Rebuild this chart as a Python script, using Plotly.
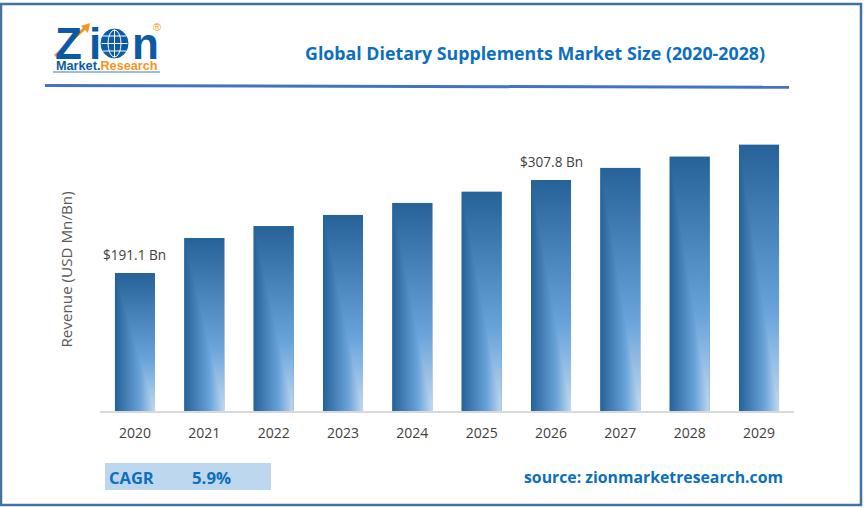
import base64, struct, zlib
import numpy as np
import plotly.graph_objects as go

years = [2020, 2021, 2022, 2023, 2024, 2025, 2026, 2027, 2028, 2029]
revenue = [191.1, 235, 250, 264, 279, 293, 307.8, 323, 337, 352]
labelled_years = [2020, 2026]
title_text = "Global Dietary Supplements Market Size (2020-2028)"
y_title = "Revenue (USD Mn/Bn)"
cagr_label = "CAGR"
cagr_value = "5.9%"
source_text = "source: zionmarketresearch.com"

W, H = 864, 508
BLUE = "#0b6fbe"
LOGO = "#0b5aa5"
ORANGE = "#f7941d"
BORDER = "#44729f"


def px(x):
    return x / W


def py(y):
    return 1 - y / H


def png_uri(rgb):
    h, w, _ = rgb.shape
    raw = b"".join(b"\x00" + rgb[r].tobytes() for r in range(h))

    def chunk(t, d):
        return struct.pack(">I", len(d)) + t + d + struct.pack(">I", zlib.crc32(t + d) & 0xffffffff)

    data = (b"\x89PNG\r\n\x1a\n" + chunk(b"IHDR", struct.pack(">IIBBBBB", w, h, 8, 2, 0, 0, 0))
            + chunk(b"IDAT", zlib.compress(raw)) + chunk(b"IEND", b""))
    return "data:image/png;base64," + base64.b64encode(data).decode()


# corner ("from bottom right") fill used on every bar
gw, gh = 120, 480
u = 1 - (np.arange(gw) + .5) / gw
v = 1 - (np.arange(gh) + .5) / gh
f = np.maximum.outer(v, u)
stops = [0, .38, 1]
cols = np.array([[0xc4, 0xda, 0xef], [0x68, 0xa3, 0xda], [0x27, 0x62, 0x98]])
img = np.stack([np.interp(f, stops, cols[:, i]) for i in range(3)], axis=2).astype(np.uint8)
grad = png_uri(img)

Y0, Y1 = 18.0, 383.1
BAR_W = 0.577

fig = go.Figure(go.Bar(x=years, y=revenue, width=BAR_W, marker=dict(color="#3f7fb8", line_width=0),
                       hoverinfo="x+y"))

images = [dict(source=grad, xref="x", yref="y", x=yr - BAR_W / 2, y=val, sizex=BAR_W, sizey=val - Y0,
               xanchor="left", yanchor="top", sizing="stretch", layer="above")
          for yr, val in zip(years, revenue)]

ann = []


def text(x, y, s, size, color, family="Open Sans", bold=False, anchor="left", **kw):
    ann.append(dict(xref="paper", yref="paper", x=px(x), y=py(y), text=f"<b>{s}</b>" if bold else s,
                    showarrow=False, xanchor=anchor, yanchor="middle",
                    font=dict(size=size, color=color, family=family), **kw))


for yr, val in zip(years, revenue):
    if yr in labelled_years:
        ann.append(dict(xref="x", yref="y", x=yr, y=val, yanchor="bottom", xanchor="center", yshift=7,
                        text=f"${val} Bn", showarrow=False,
                        font=dict(size=13.6, color="#404040", family="Open Sans")))

text(535, 53, title_text, 17.8, BLUE, bold=True, anchor="center")
text(65, 269.5, y_title, 15.2, "#595959", anchor="center", textangle=-90)
text(107, 477, cagr_label, 16.5, BLUE, bold=True)
text(190, 477, cagr_value, 16.8, BLUE, bold=True)
text(785, 477, source_text, 15.8, BLUE, bold=True, anchor="right")

# logo
text(53, 44, "Z", 44, LOGO, family="Liberation Sans", bold=True)
text(87, 44, "i", 44, LOGO, family="Liberation Sans", bold=True)
text(130, 44, "n", 44, LOGO, family="Liberation Sans", bold=True)
text(54, 65.5, f"Market.<span style='color:{ORANGE}'>Research</span>", 12.7, LOGO,
     family="Liberation Sans", bold=True)
text(157, 27, "®", 11, ORANGE, family="Liberation Sans", anchor="center")

shapes = []


def shape(kind, x0, y0, x1, y1, **kw):
    shapes.append(dict(type=kind, xref="paper", yref="paper", x0=px(x0), y0=py(y0), x1=px(x1), y1=py(y1), **kw))


shape("rect", 1, 4, 861, 505, line=dict(color=BORDER, width=2.5), fillcolor="rgba(0,0,0,0)")
shape("line", 45, 85.5, 789, 87.3, line=dict(color="#4472c4", width=3))
shape("rect", 105, 463, 271, 490, fillcolor="#bdd7ee", line_width=0, layer="below")
# globe
shape("circle", 101, 29, 128, 58, fillcolor=LOGO, line=dict(color=LOGO, width=1))
shape("circle", 108, 30, 121, 57, fillcolor="rgba(0,0,0,0)", line=dict(color="white", width=1))
shape("line", 101.5, 43.5, 127.5, 43.5, line=dict(color="white", width=1))
shape("line", 103, 36, 126, 36, line=dict(color="white", width=1))
shape("line", 103, 51, 126, 51, line=dict(color="white", width=1))
shape("line", 114.5, 29.5, 114.5, 57.5, line=dict(color="white", width=1))
# logo arrow
shape("line", 55, 56, 86, 27, line=dict(color=ORANGE, width=3))
shapes.append(dict(type="path", xref="paper", yref="paper",
                   path=f"M {px(90)} {py(23)} L {px(81)} {py(26)} L {px(88)} {py(33)} Z",
                   fillcolor=ORANGE, line_width=0))
# wave under logo
shape("line", 53, 72, 160, 72, line=dict(color=LOGO, width=0.8))

fig.update_layout(
    width=W, height=H, margin=dict(l=0, r=0, t=0, b=0), paper_bgcolor="white", plot_bgcolor="white",
    showlegend=False, annotations=ann, shapes=shapes, images=images,
    xaxis=dict(domain=[px(100.3), px(793.7)], range=[2019.5, 2029.5], tickmode="array", tickvals=years,
               ticktext=[str(y) for y in years], showgrid=False, zeroline=False, showline=True,
               linecolor="#d9d9d9", linewidth=1.5, ticks="", ticklen=0, fixedrange=True, ticklabelstandoff=8,
               tickfont=dict(size=14, color="#404040", family="Open Sans")),
    yaxis=dict(domain=[py(411), py(120)], range=[Y0, Y1], visible=False, fixedrange=True),
)
fig.write_html("out.html", config=dict(displayModeBar=False), post_script="document.body.style.margin='0';")
